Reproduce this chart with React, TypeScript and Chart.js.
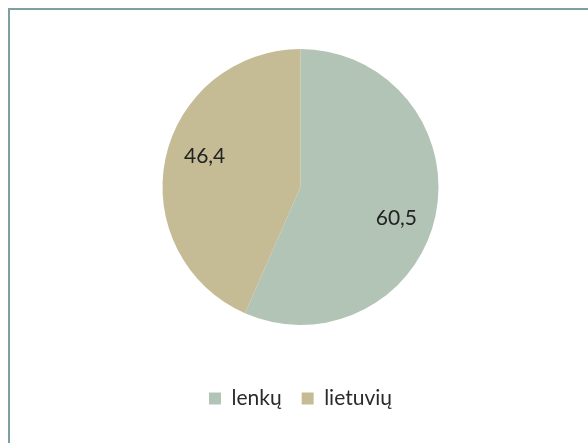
import React, { useEffect, useRef } from "react";
import { Chart, registerables } from "chart.js";

Chart.register(...registerables);

const categories: string[] = ["lenkų", "lietuvių"];
const values: number[] = [60.5, 46.4];
const sliceColors: string[] = ["#b2c4b6", "#c5bc96"];

const fmt = (v: number) => v.toFixed(1).replace(".", ",");

const labelPlugin = {
  id: "sliceLabels",
  afterDatasetsDraw(chart: any) {
    const ctx = chart.ctx;
    const meta = chart.getDatasetMeta(0);
    ctx.save();
    ctx.font = "21px Lato";
    ctx.fillStyle = "#222222";
    ctx.textAlign = "center";
    ctx.textBaseline = "middle";
    meta.data.forEach((arc: any, i: number) => {
      const p = arc.getProps(["x", "y", "startAngle", "endAngle", "outerRadius"], true);
      const mid = (p.startAngle + p.endAngle) / 2 + (6 * Math.PI) / 180;
      const r = p.outerRadius * 0.73;
      ctx.fillText(fmt(values[i]), p.x + Math.cos(mid) * r, p.y + Math.sin(mid) * r);
    });
    ctx.restore();
  },
};

export default function App() {
  const ref = useRef<HTMLCanvasElement | null>(null);
  useEffect(() => {
    if (!ref.current) return;
    const chart = new Chart(ref.current, {
      type: "pie",
      data: {
        labels: categories,
        datasets: [
          {
            data: values,
            backgroundColor: sliceColors,
            borderWidth: 0,
          },
        ],
      },
      options: {
        animation: false,
        responsive: false,
        maintainAspectRatio: false,
        layout: { padding: { top: 49, left: 13, right: 0, bottom: 24 } },
        plugins: {
          tooltip: { enabled: false },
          legend: {
            position: "bottom",
            title: {
              display: true,
              text: "",
              font: { size: 10 },
              padding: { top: 31, bottom: 0 },
            },
            labels: {
              boxWidth: 12,
              boxHeight: 12,
              padding: 20,
              color: "#2a2a2a",
              font: { family: "Lato", size: 21 },
            },
          },
        },
      },
      plugins: [labelPlugin],
    });
    return () => chart.destroy();
  }, []);

  return (
    <div style={{ position: "fixed", left: 0, top: 0, width: 588, height: 443, background: "#ffffff" }}>
      <div
        style={{
          position: "absolute",
          left: 8,
          top: 8,
          width: 600,
          height: 460,
          borderTop: "2px solid #7d9fa3",
          borderLeft: "2px solid #7d9fa3",
        }}
      />
      <canvas ref={ref} width={588} height={443} style={{ position: "absolute", left: 0, top: 0 }} />
    </div>
  );
}
